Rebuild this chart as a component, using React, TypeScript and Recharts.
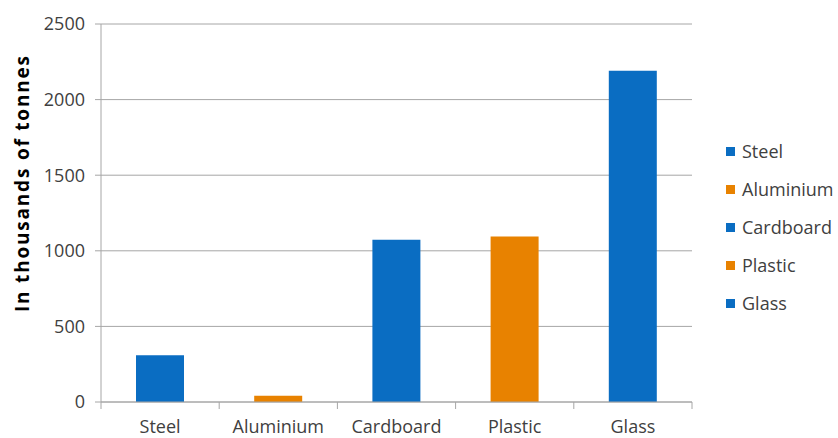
import { Bar, BarChart, CartesianGrid, Cell, XAxis, YAxis } from 'recharts';

const categories = ['Steel', 'Aluminium', 'Cardboard', 'Plastic', 'Glass'];
const tonnes = [310, 42, 1073, 1095, 2190];
const barColors = ['#0A6DC2', '#E88200', '#0A6DC2', '#E88200', '#0A6DC2'];
const yTicks = [0, 500, 1000, 1500, 2000, 2500];

const data = categories.map((name, i) => ({ name, value: tonnes[i] }));

const FONT = '"Open Sans", sans-serif';
const TEXT = '#404040';
const AXIS = '#A6A6A6';

function CategoryTick(props: any) {
  const { x, y, payload, index } = props;
  const half = payload.offset ?? 0;
  const last = index === categories.length - 1;
  return (
    <g>
      <line x1={x - half} y1={y} x2={x - half} y2={y + 7} stroke={AXIS} />
      {last && <line x1={x + half} y1={y} x2={x + half} y2={y + 7} stroke={AXIS} />}
      <text x={x} y={y + 31} textAnchor="middle" fill={TEXT} fontSize={18} fontFamily={FONT}>
        {payload.value}
      </text>
    </g>
  );
}

function SideLegend() {
  return (
    <div style={{ position: 'absolute', left: 726, top: 132, fontFamily: FONT, fontSize: 18, color: TEXT }}>
      {categories.map((name, i) => (
        <div key={name} style={{ display: 'flex', alignItems: 'center', height: 38 }}>
          <span style={{ width: 9, height: 9, background: barColors[i], marginRight: 7, display: 'inline-block' }} />
          <span>{name}</span>
        </div>
      ))}
    </div>
  );
}

export default function App() {
  return (
    <div style={{ position: 'absolute', left: 0, top: 0, width: 838, height: 438, background: '#fff' }}>
      <BarChart width={838} height={438} data={data} margin={{ top: 24, right: 146, left: 0, bottom: 6 }}>
        <CartesianGrid vertical={false} stroke={AXIS} />
        <XAxis
          dataKey="name"
          height={30}
          stroke={AXIS}
          tickLine={false}
          tickSize={0}
          tickMargin={0}
          tick={<CategoryTick />}
          interval={0}
        />
        <YAxis
          width={101}
          domain={[0, 2500]}
          ticks={yTicks}
          stroke={AXIS}
          tickSize={6}
          tickMargin={10}
          tick={{ fill: TEXT, fontSize: 18, fontFamily: FONT }}
          label={{
            content: ({ viewBox }: any) => {
              const cx = viewBox.x + 22;
              const cy = viewBox.y + viewBox.height / 2 - 29;
              return (
                <text
                  x={cx}
                  y={cy}
                  transform={`rotate(-90 ${cx} ${cy})`}
                  textAnchor="middle"
                  dominantBaseline="central"
                  fill="#000"
                  fontSize={19}
                  fontWeight="bold"
                  fontFamily={FONT}
                  textLength={256}
                  lengthAdjust="spacing"
                >
                  In thousands of tonnes
                </text>
              );
            },
          }}
        />
        <Bar dataKey="value" barSize={48} isAnimationActive={false}>
          {data.map((d, i) => (
            <Cell key={d.name} fill={barColors[i]} />
          ))}
        </Bar>
      </BarChart>
      <SideLegend />
    </div>
  );
}
